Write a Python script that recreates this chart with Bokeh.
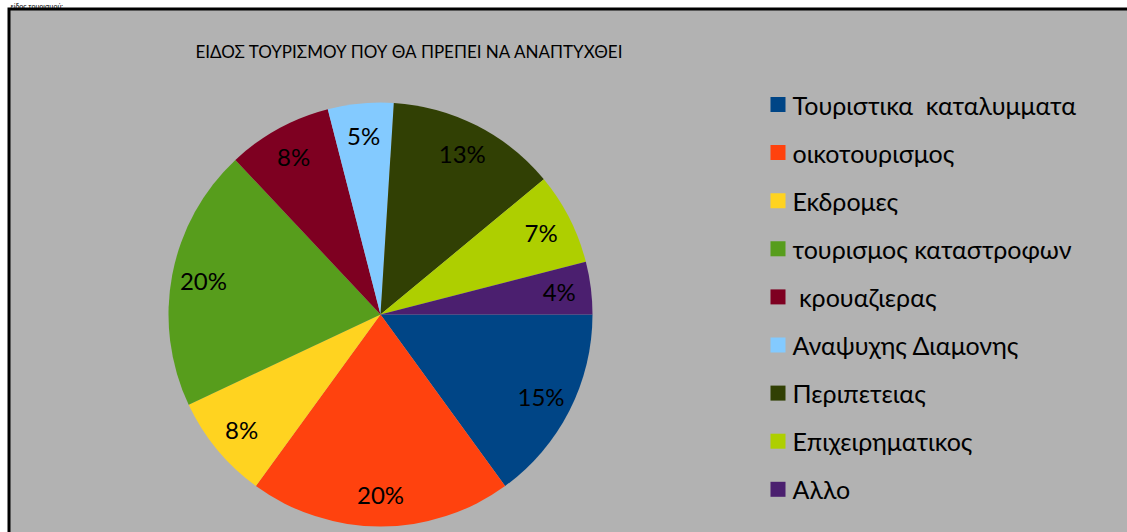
import math
from bokeh.plotting import figure
from bokeh.models import Range1d, ColumnDataSource
from bokeh.embed import file_html
from bokeh.resources import INLINE
from bokeh.core.properties import value

NBSP = "\u00a0"
categories = [
    "Τουριστικα" + NBSP + " καταλυμματα",
    "οικοτουρισμος",
    "Εκδρομες",
    "τουρισμος καταστροφων",
    NBSP + "κρουαζιερας",
    "Αναψυχης Διαμονης",
    "Περιπετειας",
    "Επιχειρηματικος",
    "Αλλο",
]
shares = [15, 20, 8, 20, 8, 5, 13, 7, 4]
colors = ["#004586", "#FF420E", "#FFD320", "#579D1C", "#7E0021",
          "#83CAFF", "#314004", "#AECF00", "#4B1F6F"]
title_text = "ΕΙΔΟΣ ΤΟΥΡΙΣΜΟΥ ΠΟΥ ΘΑ ΠΡΕΠΕΙ ΝΑ ΑΝΑΠΤΥΧΘΕΙ"
caption_text = "είδος τουρισμού:"

FONT = "Lato"
W, H = 1127, 532
cx, cy, r = 380, H - 314, 212

total = float(sum(shares))
starts, ends, lx, ly, labels = [], [], [], [], []
cum = 0.0
for s in shares:
    a0 = -2 * math.pi * cum / total
    a1 = -2 * math.pi * (cum + s) / total
    starts.append(a1)
    ends.append(a0)
    mid = -2 * math.pi * (cum + s / 2.0) / total
    lx.append(cx + 0.85 * r * math.cos(mid))
    ly.append(cy + 0.85 * r * math.sin(mid))
    labels.append(f"{round(100 * s / total)}%")
    cum += s

src = ColumnDataSource(dict(start=starts, end=ends, color=colors, lx=lx, ly=ly,
                            label=labels, cat=categories))

p = figure(width=W, height=H, x_range=Range1d(0, W), y_range=Range1d(0, H),
           output_backend="svg", toolbar_location=None, min_border=0,
           x_axis_location=None, y_axis_location=None)
p.grid.visible = False
p.background_fill_color = "white"
p.border_fill_color = "white"
p.outline_line_color = None

# small caption in the white strip above the chart frame
p.text(x=[10], y=[H - 5], text=[caption_text], text_align="left",
       text_baseline="alphabetic", text_font=value(FONT), text_font_size="7px",
       text_color="black")

# chart frame: black border (left/top) and grey area
p.quad(left=[7], right=[W], bottom=[0], top=[H - 7], fill_color="black", line_color=None)
p.quad(left=[10], right=[W], bottom=[0], top=[H - 10], fill_color="#B2B2B2", line_color=None)

p.wedge(x=cx, y=cy, radius=r, start_angle="start", end_angle="end",
        fill_color="color", line_color=None, source=src)

p.text(x="lx", y="ly", text="label", source=src, text_align="center",
       text_baseline="middle", text_font=value(FONT), text_font_size="24px",
       text_color="black")

p.text(x=[409], y=[H - 51], text=[title_text], text_align="center",
       text_baseline="middle", text_font=value(FONT), text_font_size="17px",
       text_color="black")

# legend
n = len(categories)
leg_y = [H - (104 + 48.1 * i) for i in range(n)]
leg_src = ColumnDataSource(dict(x=[777.5] * n, tx=[792] * n, y=leg_y,
                                color=colors, cat=categories))
p.rect(x="x", y="y", width=15, height=15, fill_color="color", line_color=None,
       source=leg_src)
p.text(x="tx", y="y", text="cat", source=leg_src, text_align="left",
       text_baseline="middle", text_font=value(FONT), text_font_size="25px",
       text_color="black")

open("out.html", "w").write(file_html(p, INLINE))
